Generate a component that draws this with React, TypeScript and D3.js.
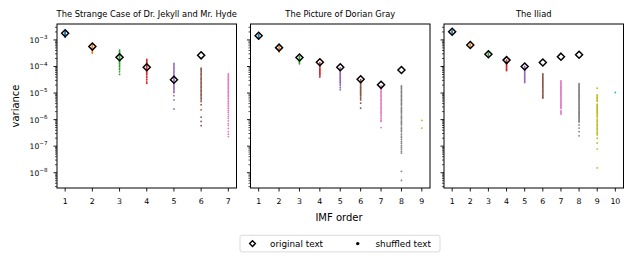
import * as d3 from 'd3'

const width = 633
const height = 266
const panelLefts = [57, 250.5, 444]
const panelWidth = 179.5
const plotTop = 24
const plotBottom = 188
const font = 'DejaVu Sans, sans-serif'

const titles = ['The Strange Case of Dr. Jekyll and Mr. Hyde', 'The Picture of Dorian Gray', 'The Iliad']
const imfCounts = [7, 9, 10]
const yTickExponents = [-3, -4, -5, -6, -7, -8]

// all values are log10(variance)
const jekyllOriginal = [-2.75, -3.25, -3.65, -4.03, -4.5, -3.58]
const dorianOriginal = [-2.84, -3.29, -3.66, -3.84, -4.03, -4.48, -4.69, -4.13]
const iliadOriginal = [-2.69, -3.19, -3.54, -3.76, -4.0, -3.85, -3.63, -3.56]

const jekyllShuffled = [
  [-2.68, -2.71, -2.74, -2.76, -2.78, -2.8, -2.83, -2.86, -2.9],
  [-3.18, -3.22, -3.25, -3.28, -3.31, -3.34, -3.38, -3.42, -3.46, -3.5],
  [-3.38, -3.42, -3.46, -3.5, -3.54, -3.58, -3.62, -3.66, -3.7, -3.74, -3.78, -3.82, -3.86, -3.9, -3.95, -4.0, -4.06, -4.12, -4.2, -4.3],
  [-3.73, -3.77, -3.81, -3.85, -3.89, -3.93, -3.97, -4.01, -4.05, -4.09, -4.13, -4.17, -4.21, -4.25, -4.3, -4.36, -4.42, -4.5, -4.58, -4.63],
  [-3.88, -3.93, -3.98, -4.03, -4.08, -4.13, -4.18, -4.23, -4.28, -4.33, -4.38, -4.43, -4.48, -4.53, -4.58, -4.63, -4.68, -4.73, -4.78, -4.83, -4.88, -4.93, -4.98, -5.1, -5.26, -5.6],
  [-4.06, -4.1, -4.15, -4.2, -4.25, -4.3, -4.35, -4.4, -4.45, -4.5, -4.55, -4.6, -4.65, -4.7, -4.75, -4.8, -4.85, -4.9, -4.95, -5.0, -5.05, -5.1, -5.15, -5.2, -5.26, -5.32, -5.44, -5.63, -5.91, -6.07, -6.23],
  [-4.28, -4.33, -4.38, -4.43, -4.48, -4.53, -4.58, -4.63, -4.68, -4.73, -4.78, -4.83, -4.88, -4.93, -4.98, -5.03, -5.08, -5.14, -5.2, -5.26, -5.32, -5.38, -5.45, -5.52, -5.58, -5.65, -5.72, -5.8, -5.88, -5.95, -6.05, -6.15, -6.22, -6.33, -6.45, -6.55, -6.64],
]

const dorianShuffled = [
  [-2.8, -2.83, -2.86, -2.89, -2.92],
  [-3.26, -3.3, -3.34, -3.38, -3.42, -3.45],
  [-3.62, -3.66, -3.7, -3.74, -3.78, -3.82, -3.86, -3.9],
  [-3.86, -3.9, -3.94, -3.98, -4.02, -4.06, -4.1, -4.14, -4.18, -4.22, -4.26, -4.3, -4.35, -4.4],
  [-4.05, -4.09, -4.13, -4.17, -4.21, -4.25, -4.29, -4.33, -4.37, -4.41, -4.45, -4.49, -4.53, -4.57, -4.61, -4.66, -4.72, -4.8, -4.88],
  [-4.5, -4.54, -4.58, -4.62, -4.66, -4.7, -4.74, -4.78, -4.82, -4.86, -4.9, -4.94, -4.98, -5.02, -5.06, -5.1, -5.15, -5.2, -5.26, -5.38, -5.57],
  [-4.73, -4.78, -4.83, -4.88, -4.93, -4.98, -5.03, -5.08, -5.13, -5.18, -5.23, -5.28, -5.33, -5.38, -5.43, -5.48, -5.53, -5.58, -5.63, -5.68, -5.73, -5.78, -5.84, -5.9, -5.96, -6.02, -6.07, -6.3],
  [-4.73, -4.78, -4.83, -4.88, -4.93, -4.98, -5.03, -5.08, -5.13, -5.18, -5.23, -5.28, -5.33, -5.38, -5.43, -5.48, -5.55, -5.6, -5.65, -5.7, -5.75, -5.82, -5.88, -5.93, -5.98, -6.05, -6.1, -6.15, -6.2, -6.28, -6.34, -6.4, -6.46, -6.55, -6.62, -6.68, -6.75, -6.83, -6.9, -6.98, -7.05, -7.12, -7.2, -7.26, -7.95, -8.29],
  [-6.03, -6.32],
]

const iliadShuffled = [
  [-2.66, -2.69, -2.72, -2.74],
  [-3.16, -3.19, -3.22, -3.26],
  [-3.5, -3.54, -3.58, -3.62],
  [-3.76, -3.8, -3.84, -3.88, -3.92, -3.96, -4.0, -4.04, -4.08, -4.12, -4.15],
  [-4.0, -4.04, -4.08, -4.12, -4.16, -4.2, -4.24, -4.28, -4.32, -4.36, -4.4, -4.44, -4.48, -4.52, -4.56, -4.6],
  [-4.28, -4.32, -4.36, -4.4, -4.44, -4.48, -4.52, -4.56, -4.6, -4.64, -4.68, -4.72, -4.76, -4.8, -4.84, -4.88, -4.92, -4.96, -5.0, -5.04, -5.08, -5.12, -5.16, -5.19],
  [-4.54, -4.58, -4.62, -4.66, -4.7, -4.74, -4.78, -4.82, -4.86, -4.9, -4.94, -4.98, -5.02, -5.06, -5.1, -5.14, -5.18, -5.22, -5.26, -5.3, -5.34, -5.38, -5.42, -5.46, -5.5, -5.54, -5.58, -5.67, -5.71, -5.75, -5.79],
  [-4.65, -4.69, -4.73, -4.77, -4.81, -4.85, -4.89, -4.93, -4.97, -5.01, -5.05, -5.09, -5.13, -5.17, -5.21, -5.25, -5.29, -5.33, -5.37, -5.41, -5.45, -5.49, -5.53, -5.57, -5.61, -5.65, -5.69, -5.73, -5.77, -5.81, -5.85, -5.89, -5.93, -5.97, -6.01, -6.05, -6.09, -6.2, -6.32, -6.45, -6.61],
  [-4.82, -5.07, -5.11, -5.15, -5.19, -5.23, -5.27, -5.31, -5.42, -5.46, -5.5, -5.54, -5.58, -5.62, -5.66, -5.7, -5.74, -5.78, -5.82, -5.86, -5.9, -5.98, -6.03, -6.08, -6.13, -6.18, -6.23, -6.28, -6.33, -6.38, -6.43, -6.48, -6.53, -6.57, -6.7, -6.88, -7.11, -7.82],
  [-4.98],
]

const originals = [jekyllOriginal, dorianOriginal, iliadOriginal]
const shuffled = [jekyllShuffled, dorianShuffled, iliadShuffled]
const colors = d3.schemeCategory10

const yScale = d3.scaleLog().domain([10 ** -8.575, 10 ** -2.4]).range([plotBottom, plotTop])

const diamondPath = (r: number) => `M0,${-r}L${r},0L0,${r}L${-r},0Z`

function Panel({ index }: { index: number }) {
  const left = panelLefts[index]
  const n = imfCounts[index]
  const x = d3
    .scaleLinear()
    .domain([1 - (n - 1) * 0.05, n + (n - 1) * 0.05])
    .range([left, left + panelWidth])
  const ticks = d3.range(1, n + 1)
  const minor: number[] = []
  for (let k = -9; k <= -2; k++) {
    for (let m = 2; m <= 9; m++) {
      const v = m * 10 ** k
      const [lo, hi] = yScale.domain()
      if (v >= lo && v <= hi) minor.push(v)
    }
  }
  return (
    <g>
      <text x={left + panelWidth / 2} y={16.5} textAnchor="middle" fontSize={8.3} fill="#000">
        {titles[index]}
      </text>
      {shuffled[index].map((vals, i) =>
        vals.map((v, j) => (
          <circle key={`${i}-${j}`} cx={x(i + 1)} cy={yScale(10 ** v)} r={0.9} fill={colors[i]} />
        )),
      )}
      {originals[index].map((v, i) => (
        <path
          key={i}
          d={diamondPath(3.5)}
          transform={`translate(${x(i + 1)},${yScale(10 ** v)})`}
          fill="none"
          stroke="#000"
          strokeWidth={1.5}
        />
      ))}
      <rect x={left} y={plotTop} width={panelWidth} height={plotBottom - plotTop} fill="none" stroke="#000" strokeWidth={1} />
      {ticks.map((t) => (
        <g key={t}>
          <line x1={x(t)} x2={x(t)} y1={plotBottom} y2={plotBottom + 3.5} stroke="#000" strokeWidth={0.9} />
          <text x={x(t)} y={204.3} textAnchor="middle" fontSize={7.8} fill="#000">
            {t}
          </text>
        </g>
      ))}
      {minor.map((v) => (
        <line key={v} x1={left - 2} x2={left} y1={yScale(v)} y2={yScale(v)} stroke="#000" strokeWidth={0.7} />
      ))}
      {yTickExponents.map((e) => (
        <g key={e}>
          <line x1={left - 3.5} x2={left} y1={yScale(10 ** e)} y2={yScale(10 ** e)} stroke="#000" strokeWidth={0.9} />
          {index === 0 && (
            <text x={left - 9.5} y={yScale(10 ** e) + 3} textAnchor="end" fontSize={7.6} fill="#000">
              <tspan>10</tspan>
              <tspan dy={-3.8} fontSize={5.6}>{`\u2212${-e}`}</tspan>
            </text>
          )}
        </g>
      ))}
    </g>
  )
}

export default function App() {
  return (
    <svg
      width={width}
      height={height}
      style={{ position: 'absolute', left: 0, top: 0, background: '#fff' }}
      fontFamily={font}
    >
      {[0, 1, 2].map((i) => (
        <Panel key={i} index={i} />
      ))}
      <text x={339} y={221} textAnchor="middle" fontSize={10} fill="#000">
        IMF order
      </text>
      <text transform="translate(18.5,106) rotate(-90)" textAnchor="middle" fontSize={10} fill="#000">
        variance
      </text>
      <g>
        <rect x={240} y={235.3} width={200} height={16.6} rx={2} fill="#fff" stroke="#d0d0d0" strokeWidth={0.8} />
        <path d={diamondPath(2.9)} transform="translate(252.5,243.6)" fill="none" stroke="#000" strokeWidth={1.4} />
        <text x={270} y={246.7} fontSize={8.8} fill="#000">
          original text
        </text>
        <circle cx={357.7} cy={243.6} r={1.7} fill="#000" />
        <text x={375.5} y={246.7} fontSize={8.8} fill="#000">
          shuffled text
        </text>
      </g>
    </svg>
  )
}
